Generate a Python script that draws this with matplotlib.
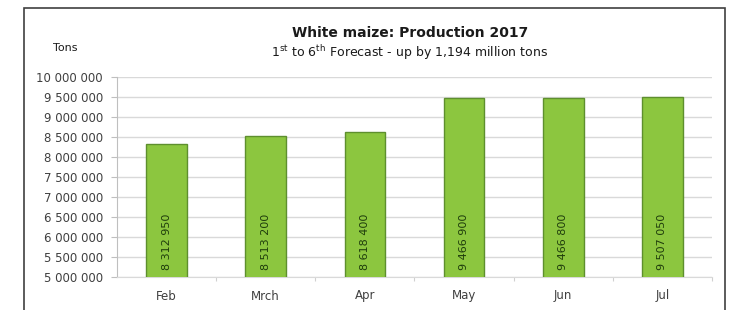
import matplotlib
matplotlib.use("Agg")
import matplotlib.pyplot as plt
from matplotlib.patches import Rectangle
from matplotlib.ticker import FuncFormatter, MultipleLocator, FixedLocator

categories = ["Feb", "Mrch", "Apr", "May", "Jun", "Jul"]
values = [8312950, 8513200, 8618400, 9466900, 9466800, 9507050]
title = "White maize: Production 2017"
subtitle = r"1$^{\mathregular{st}}$ to 6$^{\mathregular{th}}$ Forecast - up by 1,194 million tons"
ylabel = "Tons"

def fmt(v):
    return f"{int(v):,}".replace(",", " ")

W, H = 733, 310
fig = plt.figure(figsize=(W / 100, H / 100), dpi=100)
fig.patch.set_facecolor("white")

# outer frame
fig.patches.append(Rectangle((24 / W, -0.05), (725 - 24) / W, 1.05 - 8 / H,
                             transform=fig.transFigure, fill=False,
                             edgecolor="#404040", linewidth=1.2))

ax = fig.add_axes([117 / W, 1 - 277 / H, (712 - 117) / W, (277 - 77) / H])
x = list(range(len(categories)))
ax.bar(x, values, width=0.41, color="#8cc63f", edgecolor="#5e8f2e", linewidth=1.0, zorder=3)
ax.set_ylim(5000000, 10000000)
ax.set_xlim(-0.5, len(categories) - 0.5)
ax.yaxis.set_major_locator(MultipleLocator(500000))
ax.yaxis.set_major_formatter(FuncFormatter(lambda v, p: fmt(v)))
ax.set_xticks(x)
ax.set_xticklabels(categories)
ax.xaxis.set_minor_locator(FixedLocator([i + 0.5 for i in x]))
ax.tick_params(axis="x", which="major", length=0, pad=9, labelsize=8.5, labelcolor="#404040")
ax.tick_params(axis="x", which="minor", length=3, width=0.8, color="#d0d0d0")
ax.tick_params(axis="y", length=4, width=0.8, color="#bfbfbf", pad=6, labelsize=8.5, labelcolor="#404040")
ax.grid(axis="y", color="#d9d9d9", linewidth=1.0, zorder=0)
for s in ["top", "right"]:
    ax.spines[s].set_visible(False)
ax.spines["left"].set_color("#bfbfbf")
ax.spines["bottom"].set_color("#d9d9d9")

for xi, v in zip(x, values):
    ax.text(xi, 5000000 + 170000, fmt(v), rotation=90, ha="center", va="bottom",
            fontsize=8, color="#1f3d0c", zorder=4)

fig.text(410 / W, 1 - 33 / H, title, ha="center", va="center", fontsize=10, fontweight="bold", color="#1a1a1a")
fig.text(410 / W, 1 - 53 / H, subtitle, ha="center", va="center", fontsize=9, color="#1a1a1a")
fig.text(65 / W, 1 - 48 / H, ylabel, ha="center", va="center", fontsize=8, color="#1a1a1a")

fig.savefig("out.png", dpi=100)
